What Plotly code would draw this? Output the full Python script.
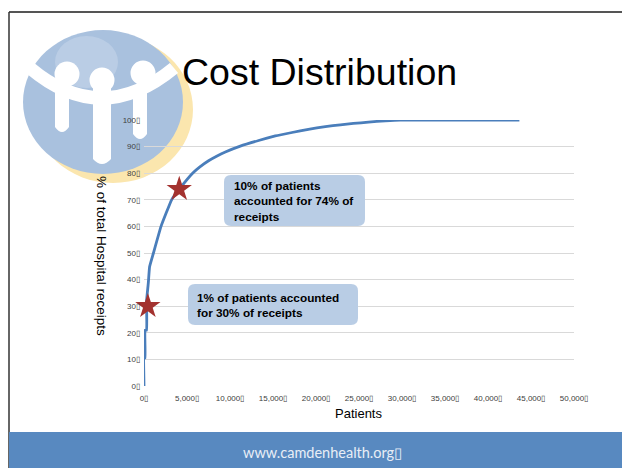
import plotly.graph_objects as go

# ---- data ----
patients = [0, 0, 116, 116, 300, 300, 500, 650, 1100, 1980, 3210, 4100, 5650, 6500,
            7510, 8500, 9460, 11200, 13330, 15270, 17210, 19110, 21090, 22830, 24350,
            26100, 28060, 29800, 43650]
pct_receipts = [0, 10.5, 10.5, 21, 21, 32, 38.7, 44.8, 50, 60, 70, 74, 80, 82.4,
                84.7, 86.5, 88.0, 90.2, 92.3, 94.0, 95.3, 96.5, 97.5, 98.2, 98.7,
                99.2, 99.7, 100, 100]
star_x = [450, 4100]
star_y = [30, 74]
x_tickvals = [0, 5000, 10000, 15000, 20000, 25000, 30000, 35000, 40000, 45000, 50000]
x_ticktext = ["0\u25af", "5,000\u25af", "10,000\u25af", "15,000\u25af", "20,000\u25af",
              "25,000\u25af", "30,000\u25af", "35,000\u25af", "40,000\u25af",
              "45,000\u25af", "50,000\u25af"]
y_tickvals = [0, 10, 20, 30, 40, 50, 60, 70, 80, 90, 100]
y_ticktext = ["0\u25af", "10\u25af", "20\u25af", "30\u25af", "40\u25af", "50\u25af",
              "60\u25af", "70\u25af", "80\u25af", "90\u25af", "100\u25af"]

W, H = 622, 468
L, R, T, B = 144, 48, 120, 82
PW, PH = W - L - R, H - T - B


def px(x):
    return (x - L) / PW


def py(y):
    return (H - B - y) / PH


def rrect(x0, y0, x1, y1, r):
    return (f"M {px(x0 + r)},{py(y0)} L {px(x1 - r)},{py(y0)} "
            f"Q {px(x1)},{py(y0)} {px(x1)},{py(y0 + r)} "
            f"L {px(x1)},{py(y1 - r)} Q {px(x1)},{py(y1)} {px(x1 - r)},{py(y1)} "
            f"L {px(x0 + r)},{py(y1)} Q {px(x0)},{py(y1)} {px(x0)},{py(y1 - r)} "
            f"L {px(x0)},{py(y0 + r)} Q {px(x0)},{py(y0)} {px(x0 + r)},{py(y0)} Z")


fig = go.Figure()
fig.add_trace(go.Scatter(x=patients, y=pct_receipts, mode="lines",
                         line=dict(color="#4A7EBB", width=2.8, shape="spline",
                                   smoothing=0.3),
                         cliponaxis=False, hoverinfo="skip"))
fig.add_trace(go.Scatter(x=star_x, y=star_y, mode="markers",
                         marker=dict(symbol="star", size=19, color="#A3322F",
                                     line=dict(width=0)),
                         cliponaxis=False, hoverinfo="skip"))

shapes = []
# logo watermark
shapes.append(dict(type="circle", xref="paper", yref="paper", layer="below",
                   x0=px(33), x1=px(193), y0=py(36), y1=py(183),
                   fillcolor="#FBE6AE", line=dict(width=0)))
shapes.append(dict(type="circle", xref="paper", yref="paper", layer="below",
                   x0=px(23), x1=px(183), y0=py(30), y1=py(174),
                   fillcolor="#A9C1DE", line=dict(width=0)))
shapes.append(dict(type="circle", xref="paper", yref="paper", layer="below",
                   x0=px(55), x1=px(118), y0=py(36), y1=py(88),
                   fillcolor="#BACDE5", line=dict(width=0)))
# band
shapes.append(dict(type="path", xref="paper", yref="paper", layer="below",
                   path=f"M {px(30)},{py(68)} Q {px(101)},{py(128)} {px(174)},{py(68)}",
                   line=dict(color="white", width=13)))
# legs
for (xa, xb, yb) in [(55, 69, 133), (93, 111, 165), (133, 147, 140)]:
    shapes.append(dict(type="path", xref="paper", yref="paper", layer="below",
                       path=(f"M {px(xa)},{py(88)} L {px(xb)},{py(88)} L {px(xb)},{py(yb - 6)} "
                             f"Q {px((xa + xb) / 2)},{py(yb + 4)} {px(xa)},{py(yb - 6)} Z"),
                       fillcolor="white", line=dict(width=0)))
# heads
for (cx, cy, r) in [(67, 74, 12.5), (102, 80, 12.5), (143, 73, 12.5)]:
    shapes.append(dict(type="circle", xref="paper", yref="paper", layer="below",
                       x0=px(cx - r), x1=px(cx + r), y0=py(cy - r), y1=py(cy + r),
                       fillcolor="white", line=dict(width=0)))
# slide border
shapes.append(dict(type="line", xref="paper", yref="paper", x0=px(9), x1=px(622),
                   y0=py(12), y1=py(12), line=dict(color="#555555", width=2)))
shapes.append(dict(type="line", xref="paper", yref="paper", x0=px(9), x1=px(9),
                   y0=py(12), y1=py(468), line=dict(color="#333333", width=1.5)))
# footer
shapes.append(dict(type="rect", xref="paper", yref="paper", x0=px(9), x1=px(622),
                   y0=py(432), y1=py(468), fillcolor="#5889C0", line=dict(width=0)))
# callout boxes
shapes.append(dict(type="path", xref="paper", yref="paper",
                   path=rrect(224, 175, 365, 226, 7), fillcolor="#B9CDE5",
                   line=dict(width=0)))
shapes.append(dict(type="path", xref="paper", yref="paper",
                   path=rrect(188, 284, 358, 325, 7), fillcolor="#B9CDE5",
                   line=dict(width=0)))

annotations = [
    dict(text="Cost Distribution", xref="paper", yref="paper", x=px(180), y=py(72),
         xanchor="left", yanchor="middle", showarrow=False,
         font=dict(family="Liberation Sans, Arial", size=37.5, color="black")),
    dict(text="% of total Hospital receipts", xref="paper", yref="paper", x=px(102),
         y=py(256), textangle=90, showarrow=False, xanchor="center", yanchor="middle",
         font=dict(family="Liberation Sans, Arial", size=13.5, color="black")),
    dict(text="Patients", xref="paper", yref="paper", x=px(358), y=py(413),
         showarrow=False, xanchor="center", yanchor="middle",
         font=dict(family="Liberation Sans, Arial", size=13, color="black")),
    dict(text="10% of patients<br>accounted for 74% of<br>receipts", xref="paper",
         yref="paper", x=px(232), y=py(201), xanchor="left", yanchor="middle",
         align="left", showarrow=False,
         font=dict(family="Liberation Sans, Arial", size=11.8, color="black",
                   weight="bold")),
    dict(text="1% of patients accounted<br>for 30% of receipts", xref="paper",
         yref="paper", x=px(195), y=py(305), xanchor="left", yanchor="middle",
         align="left", showarrow=False,
         font=dict(family="Liberation Sans, Arial", size=11.8, color="black",
                   weight="bold")),
    dict(text="www.camdenhealth.org\u25af", xref="paper", yref="paper", x=px(322),
         y=py(452), xanchor="center", yanchor="middle", showarrow=False,
         font=dict(family="Lato, Open Sans", size=14.5, color="#E8EEF6")),
]

fig.update_layout(
    width=W, height=H, margin=dict(l=L, r=R, t=T, b=B),
    paper_bgcolor="white", plot_bgcolor="rgba(0,0,0,0)",
    showlegend=False, shapes=shapes, annotations=annotations,
    xaxis=dict(range=[0, 50000], tickvals=x_tickvals, ticktext=x_ticktext,
               showgrid=False, zeroline=False, showline=False, ticks="",
               ticklabelstandoff=6,
               tickfont=dict(family="Liberation Sans, Arial", size=8, color="#404040"),
               fixedrange=True),
    yaxis=dict(range=[0, 100], tickvals=y_tickvals, ticktext=y_ticktext,
               showgrid=True, gridcolor="#D9D9D9", gridwidth=1, zeroline=False,
               showline=False, ticks="", ticklabelstandoff=3,
               tickfont=dict(family="Liberation Sans, Arial", size=8, color="#404040"),
               fixedrange=True),
)

fig.write_html("out.html", config={"displayModeBar": False},
               post_script="document.body.style.margin='0px';document.body.style.overflow='hidden';")
